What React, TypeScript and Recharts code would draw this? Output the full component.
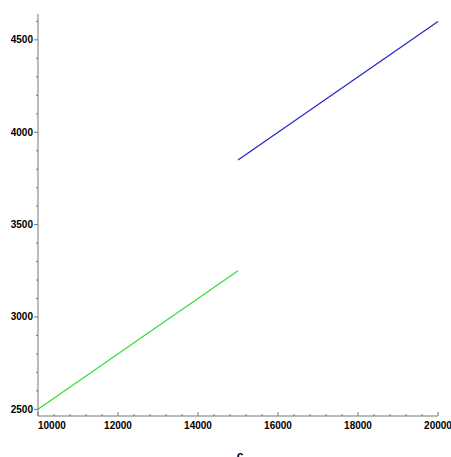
import { LineChart, Line, XAxis, YAxis } from 'recharts';

const greenX = [10000, 15000];
const greenY = [2500, 3250];
const blueX = [15000, 20000];
const blueY = [3850, 4600];

const xTicks = [10000, 10400, 10800, 11200, 11600, 12000, 12400, 12800, 13200, 13600, 14000, 14400, 14800, 15200, 15600, 16000, 16400, 16800, 17200, 17600, 18000, 18400, 18800, 19200, 19600, 20000];
const xMajor = [10000, 12000, 14000, 16000, 18000, 20000];
const yTicks = [2500, 2600, 2700, 2800, 2900, 3000, 3100, 3200, 3300, 3400, 3500, 3600, 3700, 3800, 3900, 4000, 4100, 4200, 4300, 4400, 4500, 4600];
const yMajor = [2500, 3000, 3500, 4000, 4500];

const greenData = greenX.map((x, i) => ({ x, y: greenY[i] }));
const blueData = blueX.map((x, i) => ({ x, y: blueY[i] }));

const font = '"Liberation Sans", Arial, sans-serif';
const axisColor = '#777';

function XTick(props: any) {
  const { x, y, payload } = props;
  const major = xMajor.includes(payload.value);
  const first = payload.value === xMajor[0];
  return (
    <g>
      <line x1={x} x2={x} y1={y} y2={y - (major ? 4 : 2)} stroke={axisColor} />
      {major && (
        <text x={x} y={y + 13} textAnchor={first ? 'start' : 'middle'} fontFamily={font} fontWeight="bold" fontSize={10} fill="#000">
          {payload.value}
        </text>
      )}
    </g>
  );
}

function YTick(props: any) {
  const { x, y, payload } = props;
  const major = yMajor.includes(payload.value);
  return (
    <g>
      <line x1={x} x2={x - (major ? 4 : 2)} y1={y} y2={y} stroke={axisColor} />
      {major && (
        <text x={x - 5} y={y + 3.5} textAnchor="end" fontFamily={font} fontWeight="bold" fontSize={10} fill="#000">
          {payload.value}
        </text>
      )}
    </g>
  );
}

export default function App() {
  return (
    <div style={{ position: 'absolute', left: 0, top: 0, background: '#fff' }}>
      <LineChart width={451} height={457} margin={{ top: 14, right: 13, bottom: 0, left: 0 }}>
        <XAxis
          dataKey="x"
          type="number"
          domain={[10000, 20000]}
          ticks={xTicks}
          interval={0}
          tick={<XTick />}
          tickLine={false}
          tickSize={0}
          tickMargin={0}
          height={41}
          stroke={axisColor}
          allowDuplicatedCategory={false}
          label={{
            content: () => (
              <text x={240} y={460} textAnchor="middle" fontFamily={font} fontWeight="bold" fontSize={12} fill="#000">c</text>
            ),
          }}
        />
        <YAxis
          dataKey="y"
          type="number"
          domain={[2464, 4640]}
          ticks={yTicks}
          tick={<YTick />}
          tickLine={false}
          tickSize={0}
          tickMargin={0}
          width={38}
          stroke={axisColor}
          interval={0}
        />
        <Line data={greenData} dataKey="y" stroke="#33dd33" strokeWidth={1.2} dot={false} isAnimationActive={false} />
        <Line data={blueData} dataKey="y" stroke="#2222cc" strokeWidth={1.2} dot={false} isAnimationActive={false} />
      </LineChart>
    </div>
  );
}
